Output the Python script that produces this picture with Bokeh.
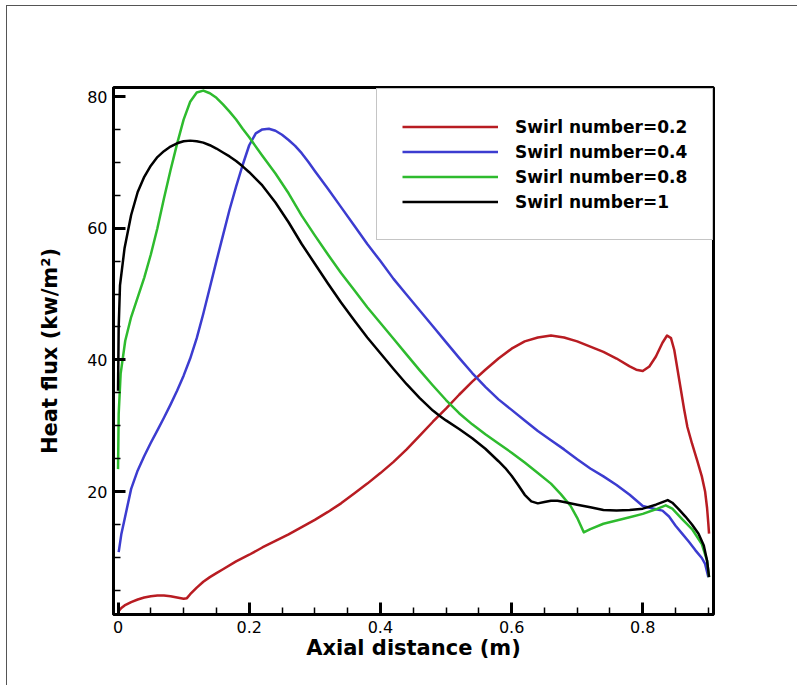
from bokeh.plotting import figure
from bokeh.models import Range1d, FixedTicker, Legend, LegendItem
from bokeh.embed import file_html
from bokeh.resources import INLINE

# Heat flux along the axial distance for four swirl numbers
swirl_labels = ["Swirl number=0.2", "Swirl number=0.4", "Swirl number=0.8", "Swirl number=1"]
swirl_colors = ["#b81c22", "#3c3cd0", "#2ebb2e", "#000000"]

s02_x = [0.000, 0.005, 0.010, 0.020, 0.030, 0.040, 0.050, 0.060, 0.070, 0.080, 0.090, 0.100,
         0.105, 0.110, 0.120, 0.130, 0.140, 0.150, 0.160, 0.180, 0.200, 0.220, 0.240, 0.260,
         0.280, 0.300, 0.320, 0.340, 0.360, 0.380, 0.400, 0.420, 0.440, 0.460, 0.480, 0.500,
         0.520, 0.540, 0.560, 0.580, 0.600, 0.620, 0.640, 0.660, 0.680, 0.700, 0.720, 0.740,
         0.760, 0.780, 0.790, 0.800, 0.810, 0.820, 0.830, 0.837, 0.843, 0.848, 0.853, 0.858,
         0.863, 0.868, 0.875, 0.883, 0.890, 0.895, 0.898, 0.900, 0.901]
s02_y = [1.7, 2.3, 2.7, 3.2, 3.6, 3.9, 4.1, 4.2, 4.2, 4.1, 3.9, 3.7,
         3.8, 4.4, 5.4, 6.3, 7.0, 7.6, 8.2, 9.4, 10.4, 11.5, 12.5, 13.5,
         14.6, 15.7, 16.9, 18.2, 19.7, 21.2, 22.8, 24.5, 26.4, 28.5, 30.6, 32.6,
         34.7, 36.7, 38.5, 40.2, 41.7, 42.8, 43.4, 43.7, 43.4, 42.8, 42.0, 41.2,
         40.2, 39.0, 38.5, 38.3, 39.0, 40.5, 42.6, 43.7, 43.3, 41.5, 38.5, 35.5,
         32.5, 29.8, 27.3, 24.7, 22.3, 20.0, 17.5, 15.0, 13.6]

s04_x = [0.001, 0.005, 0.010, 0.020, 0.030, 0.040, 0.050, 0.060, 0.070, 0.080, 0.090, 0.100,
         0.110, 0.120, 0.130, 0.140, 0.150, 0.160, 0.170, 0.180, 0.190, 0.200, 0.210, 0.220,
         0.230, 0.240, 0.250, 0.260, 0.270, 0.280, 0.290, 0.300, 0.320, 0.340, 0.360, 0.380,
         0.400, 0.420, 0.440, 0.460, 0.480, 0.500, 0.520, 0.540, 0.560, 0.580, 0.600, 0.620,
         0.640, 0.660, 0.680, 0.700, 0.720, 0.740, 0.760, 0.780, 0.800, 0.820, 0.830, 0.840,
         0.850, 0.860, 0.870, 0.880, 0.890, 0.895, 0.900]
s04_y = [10.8, 13.5, 15.8, 20.4, 23.2, 25.4, 27.4, 29.3, 31.2, 33.2, 35.3, 37.6,
         40.2, 43.3, 47.0, 51.0, 55.0, 58.9, 62.8, 66.3, 69.6, 72.6, 74.4, 75.0,
         75.1, 74.8, 74.2, 73.4, 72.5, 71.4, 70.1, 68.7, 66.0, 63.2, 60.4, 57.6,
         55.0, 52.3, 49.9, 47.5, 45.1, 42.7, 40.3, 38.0, 35.9, 34.0, 32.4, 30.8,
         29.2, 27.8, 26.4, 24.9, 23.5, 22.3, 21.0, 19.5, 17.8, 17.3, 17.1, 16.2,
         14.8, 13.6, 12.4, 11.1, 9.9, 9.0, 7.0]

s08_x = [0.000, 0.001, 0.004, 0.011, 0.020, 0.030, 0.040, 0.050, 0.060, 0.070, 0.080, 0.090,
         0.100, 0.110, 0.120, 0.130, 0.140, 0.150, 0.160, 0.170, 0.180, 0.190, 0.200, 0.220,
         0.240, 0.260, 0.280, 0.300, 0.320, 0.340, 0.360, 0.380, 0.400, 0.420, 0.440, 0.460,
         0.480, 0.500, 0.520, 0.540, 0.560, 0.580, 0.600, 0.620, 0.640, 0.660, 0.675, 0.690,
         0.700, 0.710, 0.720, 0.740, 0.760, 0.780, 0.800, 0.820, 0.835, 0.845, 0.860, 0.875,
         0.890, 0.898, 0.901]
s08_y = [23.4, 31.8, 37.9, 42.9, 46.5, 49.5, 52.5, 56.0, 60.0, 64.5, 68.8, 72.8,
         76.5, 79.2, 80.6, 80.9, 80.5, 79.8, 78.8, 77.7, 76.5, 75.1, 73.8, 71.0,
         68.3, 65.3, 61.9, 58.9, 56.0, 53.2, 50.6, 48.0, 45.6, 43.2, 40.8, 38.4,
         36.1, 33.9, 31.9, 30.2, 28.7, 27.3, 25.9, 24.4, 22.8, 21.2, 19.6, 17.8,
         16.0, 13.8, 14.3, 15.1, 15.6, 16.1, 16.6, 17.3, 17.9, 17.4, 15.8, 14.3,
         12.0, 9.5, 7.0]

s10_x = [0.000, 0.001, 0.003, 0.010, 0.020, 0.030, 0.040, 0.050, 0.060, 0.070, 0.080, 0.090,
         0.100, 0.110, 0.120, 0.130, 0.140, 0.150, 0.160, 0.170, 0.180, 0.190, 0.200, 0.220,
         0.240, 0.260, 0.280, 0.300, 0.320, 0.340, 0.360, 0.380, 0.400, 0.420, 0.440, 0.460,
         0.480, 0.490, 0.500, 0.520, 0.540, 0.560, 0.580, 0.590, 0.600, 0.610, 0.620, 0.630,
         0.640, 0.650, 0.660, 0.670, 0.680, 0.700, 0.720, 0.740, 0.760, 0.780, 0.800, 0.820,
         0.830, 0.838, 0.845, 0.855, 0.865, 0.875, 0.885, 0.893, 0.898, 0.901]
s10_y = [35.3, 45.0, 51.3, 57.0, 62.0, 65.5, 67.8, 69.5, 70.8, 71.7, 72.4, 72.9,
         73.2, 73.3, 73.2, 73.0, 72.6, 72.1, 71.5, 70.9, 70.2, 69.4, 68.5, 66.5,
         63.9, 60.9, 57.6, 54.6, 51.6, 48.7, 46.0, 43.4, 41.0, 38.6, 36.3, 34.2,
         32.3, 31.5, 30.8, 29.5, 28.1, 26.5, 24.6, 23.6, 22.4, 21.0, 19.5, 18.5,
         18.2, 18.4, 18.6, 18.6, 18.4, 18.0, 17.6, 17.2, 17.1, 17.2, 17.4, 18.0,
         18.4, 18.7, 18.3, 17.3, 16.2, 15.0, 13.6, 11.8, 9.5, 7.0]

x_major = [0, 0.2, 0.4, 0.6, 0.8]
x_minor = [round(0.05 * i, 2) for i in range(19)]
y_major = [20, 40, 60, 80]
y_minor = [5 * i for i in range(1, 17)]

p = figure(width=791, height=680, output_backend="svg", toolbar_location=None,
           x_range=Range1d(-0.0069, 0.9078), y_range=Range1d(1.32, 81.37),
           min_border_left=106, min_border_right=85, min_border_top=81, min_border_bottom=72,
           x_axis_label="Axial distance (m)", y_axis_label="Heat flux (kw/m\u00b2)")
p.styles = {"margin-left": "6px", "margin-top": "5px",
            "border-left": "1px solid #555", "border-top": "1px solid #555"}

p.xgrid.visible = False
p.ygrid.visible = False
p.outline_line_color = "black"
p.outline_line_width = 3
p.outline_line_alpha = 1

p.xaxis.ticker = FixedTicker(ticks=x_major, minor_ticks=x_minor)
p.yaxis.ticker = FixedTicker(ticks=y_major, minor_ticks=y_minor)
p.xaxis.major_label_overrides = {0: "0"}

for ax in (p.xaxis[0], p.yaxis[0]):
    ax.axis_line_width = 3
    ax.axis_line_color = "black"
    ax.major_tick_in = 12
    ax.major_tick_out = 0
    ax.minor_tick_in = 7
    ax.minor_tick_out = 0
    ax.major_tick_line_width = 3
    ax.minor_tick_line_width = 1.5
    ax.major_tick_line_color = "black"
    ax.minor_tick_line_color = "black"
    ax.major_label_text_font = "DejaVu Sans"
    ax.major_label_text_font_size = "16px"
    ax.major_label_text_color = "black"
    ax.major_label_standoff = 6
    ax.axis_label_text_font = "DejaVu Sans"
    ax.axis_label_text_font_style = "bold"
    ax.axis_label_text_font_size = "21px"
    ax.axis_label_text_color = "black"

p.xaxis.axis_label_standoff = 0
p.yaxis.axis_label_standoff = 22

series = [(s02_x, s02_y), (s04_x, s04_y), (s08_x, s08_y), (s10_x, s10_y)]
items = []
for (xs, ys), label, color in zip(series, swirl_labels, swirl_colors):
    r = p.line(xs, ys, line_color=color, line_width=2.5, line_join="round")
    items.append(LegendItem(label=label, renderers=[r]))

legend = Legend(items=items, location=(263, 374), margin=0, padding=25, spacing=0,
                glyph_width=96, glyph_height=25, label_height=25, label_standoff=17,
                label_text_font="DejaVu Sans", label_text_font_style="bold",
                label_text_font_size="17px", label_text_color="black",
                border_line_color="#8c8c8c", border_line_width=1.5,
                background_fill_color="white", background_fill_alpha=1)
p.add_layout(legend)

open("out.html", "w").write(file_html(p, INLINE))
